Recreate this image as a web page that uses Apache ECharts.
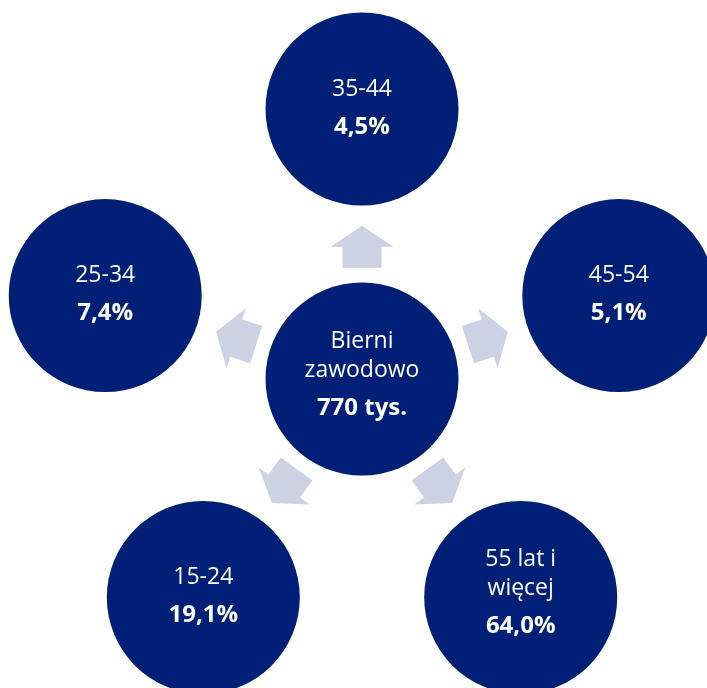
<!DOCTYPE html>
<html>
<head>
<meta charset="utf-8">
<script src="https://cdn.jsdelivr.net/npm/echarts@6/dist/echarts.min.js"></script>
<style>html,body{margin:0;padding:0;background:#fff}#c{width:707px;height:688px}</style>
</head>
<body>
<div id="c"></div>
<script>
// ---- data ----
var categories = ['35-44', '45-54', '55 lat i\nwięcej', '15-24', '25-34'];
var shares = [4.5, 5.1, 64.0, 19.1, 7.4];
var centerLabel = 'Bierni\nzawodowo';
var centerValue = 770;
var centerUnit = 'tys.';

// ---- style / layout ----
var NAVY = '#001f77';
var ARROW = '#ccd1e3';
var FONT = 'Open Sans';
var ARROW_R = 0.49;

function fmtPct(v) { return v.toFixed(1).replace('.', ',') + '%'; }

var chart = echarts.init(document.getElementById('c'), null, {renderer: 'canvas'});

var richText = {
  a: {color: '#fff', fontFamily: FONT, fontSize: 23, lineHeight: 36},
  b: {color: '#fff', fontFamily: FONT, fontSize: 24, fontWeight: 'bold', lineHeight: 40},
  c: {color: '#fff', fontFamily: FONT, fontSize: 23, lineHeight: 29},
  d: {color: '#fff', fontFamily: FONT, fontSize: 24, fontWeight: 'bold', lineHeight: 46}
};

var option = {
  animation: false,
  polar: {center: [362, 379], radius: 270},
  angleAxis: {
    type: 'category', data: categories, boundaryGap: false,
    startAngle: 90, clockwise: true, show: false
  },
  radiusAxis: {type: 'value', min: 0, max: 1, show: false},
  series: [
    {
      type: 'scatter', coordinateSystem: 'polar', z: 2,
      symbol: 'path://M0,0 L31.5,21 L19.5,21 L19.5,42 L-19.5,42 L-19.5,21 L-31.5,21 Z',
      symbolSize: [63, 42],
      itemStyle: {color: ARROW, opacity: 1},
      data: categories.map(function (c, i) {
        return {value: [ARROW_R, c], symbolRotate: -72 * i};
      }),
      silent: true
    },
    {
      type: 'scatter', coordinateSystem: 'polar', z: 3,
      symbol: 'circle', symbolSize: 193,
      itemStyle: {color: NAVY, opacity: 1},
      data: categories.map(function (c, i) { return [1, c, shares[i]]; }),
      label: {
        show: true, position: 'inside',
        formatter: function (p) {
          var name = categories[p.dataIndex];
          var lines = name.split('\n');
          if (lines.length > 1) {
            return lines.map(function (l) { return '{c|' + l + '}'; }).join('\n') + '\n{d|' + fmtPct(shares[p.dataIndex]) + '}';
          }
          return '{a|' + name + '}\n{b|' + fmtPct(shares[p.dataIndex]) + '}';
        },
        rich: richText
      }
    },
    {
      type: 'scatter', coordinateSystem: 'polar', z: 3,
      symbol: 'circle', symbolSize: 193,
      itemStyle: {color: NAVY, opacity: 1},
      data: [[0, categories[0], centerValue]],
      label: {
        show: true, position: 'inside',
        formatter: function () {
          return centerLabel.split('\n').map(function (l) { return '{c|' + l + '}'; }).join('\n') +
            '\n{d|' + centerValue + ' ' + centerUnit + '}';
        },
        rich: richText
      }
    }
  ]
};
chart.setOption(option);
</script>
</body>
</html>
